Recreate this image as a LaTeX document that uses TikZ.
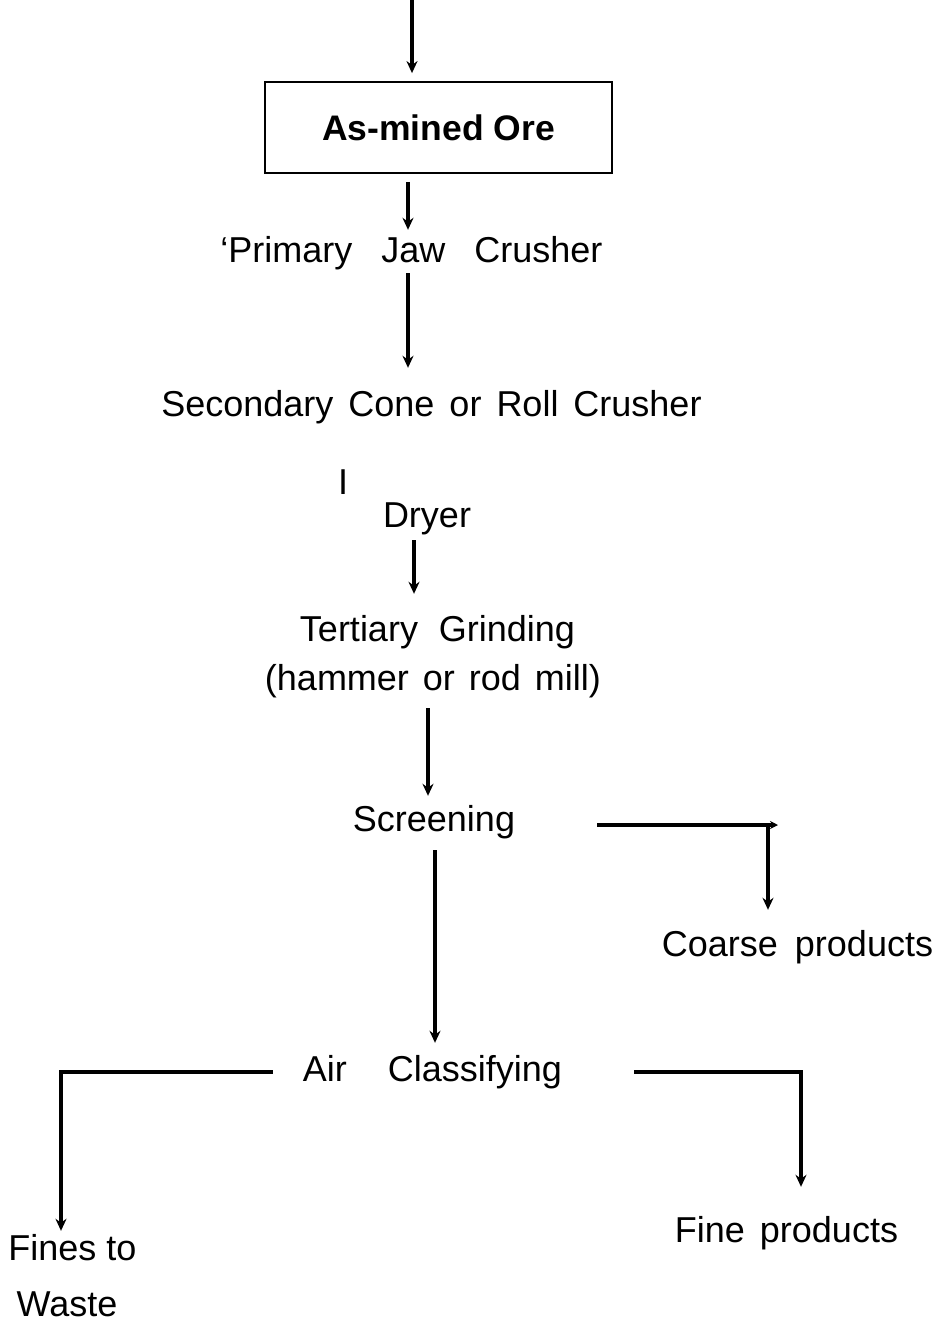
\documentclass[tikz,border=0pt]{standalone}
\usepackage{fontspec}
\setmainfont{Liberation Sans}
\usetikzlibrary{arrows.meta,calc}
\begin{document}
\begin{tikzpicture}[x=1pt,y=-1pt,
  lbl/.style={anchor=base, inner sep=0pt, text height=26pt, text depth=8pt, font=\fontsize{36}{43}\selectfont},
  arr/.style={line width=3.6pt, -{Stealth[length=12pt,width=11pt]}},
  smallarr/.style={line width=3.2pt, -{Stealth[length=8pt,width=8pt]}},
  orebox/.style={draw, line width=1.8pt, minimum width=347pt, minimum height=91pt, inner sep=0pt, font=\bfseries\fontsize{35.5}{42}\selectfont}]
\path[use as bounding box] (0,0) rectangle (942,1322);

% column coordinates
\coordinate (src) at (412,0);
\coordinate (c2) at (408,0);
\coordinate (c4) at (414,0);
\coordinate (c5) at (428,0);
\coordinate (c7) at (435,0);
\coordinate (cx) at (768,0);
\coordinate (fx) at (61,0);
\coordinate (rx) at (801,0);
\coordinate (hend) at (778,0);

% nodes
\node[orebox] (ore) at (438.5,127.5) {As-mined Ore};
\node[lbl] (prim) at (411.5,262) {‘Primary\hspace{19pt} Jaw\hspace{19pt} Crusher};
\node[lbl] (sec) at (431.5,416) {Secondary\hspace{5pt} Cone\hspace{5pt} or\hspace{5pt} Roll\hspace{5pt} Crusher};
\node[lbl] (eye) at (343,494) {I};
\node[lbl] (dry) at (427,527) {Dryer};
\node[lbl] (ter) at (437.5,641) {Tertiary\hspace{11pt} Grinding};
\node[lbl] (ham) at (433,690) {(hammer\hspace{4pt} or\hspace{4pt} rod\hspace{4pt} mill)};
\node[lbl] (scr) at (434,831) {Screening};
\node[lbl] (coarse) at (797.5,956) {Coarse\hspace{7pt} products};
\node[lbl] (air) at (432.5,1081) {Air\hspace{31pt} Classifying};
\node[lbl] (fine) at (786.5,1242) {Fine\hspace{5pt} products};
\node[lbl] (fines) at (72.5,1260) {Fines to};
\node[lbl, text depth=0pt] (waste) at (67,1316) {Waste};

% connectors
\draw[arr, shorten >=8pt] (src) -- (ore.north -| src);
\draw[arr, shorten <=8pt, shorten >=6pt] (ore.south -| c2) -- (prim.north -| c2);
\draw[arr, shorten <=3pt, shorten >=22pt] (prim.south -| c2) -- (sec.north -| c2);
\draw[arr, shorten <=5pt, shorten >=21pt] (dry.south -| c4) -- (ter.north -| c4);
\draw[arr, shorten <=10pt, shorten >=9pt] (ham.south -| c5) -- (scr.north -| c5);
\draw[smallarr, shorten <=82pt] ([yshift=-3pt]scr.east) -- ([yshift=-3pt]scr.east -| hend);
\draw[arr, shorten >=20pt] ([yshift=-3pt]scr.east -| cx) -- (coarse.north -| cx);
\draw[arr, shorten <=11pt, shorten >=12pt] (scr.south -| c7) -- (air.north -| c7);
\draw[arr, shorten >=3pt] ([xshift=-30pt]air.west) -- (air.west -| fx) -- (fines.north -| fx);
\draw[arr, shorten >=29pt] ([xshift=72pt]air.east) -- (air.east -| rx) -- (fine.north -| rx);
\end{tikzpicture}
\end{document}
